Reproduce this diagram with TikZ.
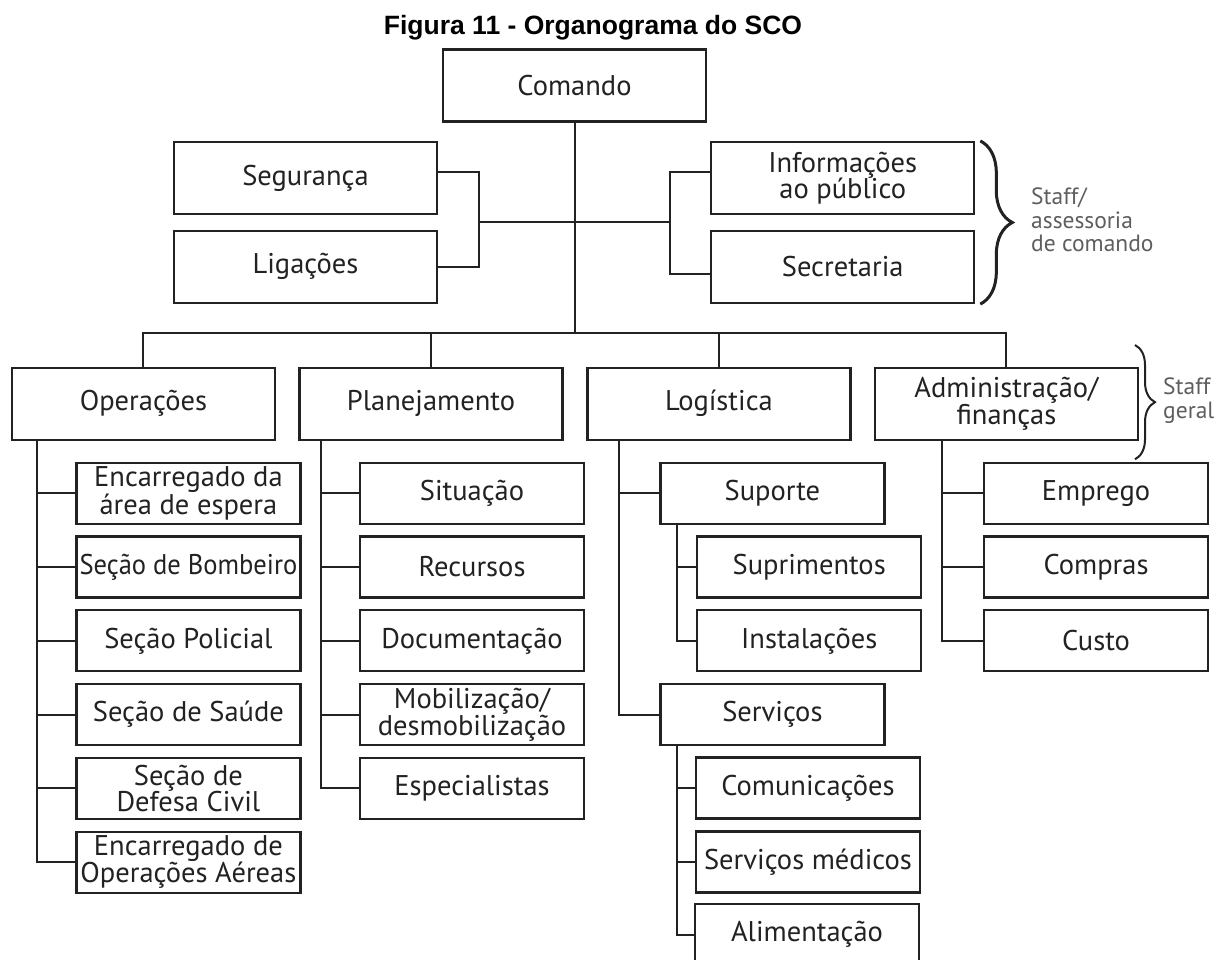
\documentclass[tikz,border=0pt]{standalone}
\usepackage{fontspec}
\setmainfont{PT Sans}
\newfontfamily\titlefont{Liberation Sans}
\usetikzlibrary{decorations.pathreplacing}
\definecolor{ink}{HTML}{222222}
\definecolor{note}{HTML}{5E5E5E}
\begin{document}
\begin{tikzpicture}[x=1pt,y=-1pt,
  unit/.style={draw=ink, line width=2.2pt, text=ink, inner sep=0pt, align=center,
               font=\fontsize{28.5}{26.5}\selectfont},
  bigbox/.style={unit, minimum width=263pt, minimum height=72pt},
  subbox/.style={unit, minimum width=224pt, minimum height=61pt},
  link/.style={draw=ink, line width=2pt},
  lbl/.style={text=note, inner sep=0pt, align=left, font=\fontsize{23.5}{23.3}\selectfont},
  brc/.style={draw=ink, decorate, decoration={brace, amplitude=#1}},
]
\useasboundingbox (0,0) rectangle (1216,960);
\clip (0,0) rectangle (1216,960);
\fill[white] (0,0) rectangle (1216,960);

% title
\node[font=\titlefont\fontsize{26.5}{30}\selectfont\bfseries, anchor=base, inner sep=0pt]
  (title) at (593,34.3) {Figura 11 - Organograma do SCO};

% command and command staff
\node[bigbox] (cmd) at (574.5,85.5) {Comando};
\node[bigbox] (seg) at (305.5,178) {Segurança};
\node[bigbox] (lig) at (305.5,266.7) {Ligações};
\node[bigbox] (inf) at (842.7,178) {Informações\\ao público};
\node[bigbox] (sec) at (842.7,267) {Secretaria};

% general staff sections
\node[bigbox] (ope) at (143.4,403.7) {Operações};
\node[bigbox] (pla) at (431,403.7) {Planejamento};
\node[bigbox] (log) at (719,403.7) {Logística};
\node[bigbox] (adm) at (1006.4,403.7) {Administração/\\finanças};

% operations units
\node[subbox] (o1) at (188.4,493.2) {Encarregado da\\área de espera};
\node[subbox] (o2) at (188.4,567.0) {\scalebox{0.93}[1]{Seção de Bombeiro}};
\node[subbox] (o3) at (188.4,640.8) {Seção Policial};
\node[subbox] (o4) at (188.4,714.6) {Seção de Saúde};
\node[subbox] (o5) at (188.4,788.4) {Seção de\\Defesa Civil};
\node[subbox] (o6) at (188.4,862.2) {Encarregado de\\Operações Aéreas};

% planning units
\node[subbox] (p1) at (472,493.2) {Situação};
\node[subbox] (p2) at (472,567.0) {Recursos};
\node[subbox] (p3) at (472,640.8) {Documentação};
\node[subbox] (p4) at (472,714.6) {Mobilização/\\desmobilização};
\node[subbox] (p5) at (472,788.4) {Especialistas};

% logistics units
\node[subbox] (su) at (772.4,493.2) {Suporte};
\node[subbox] (l1) at (809.2,567.0) {Suprimentos};
\node[subbox] (l2) at (809.2,640.8) {Instalações};
\node[subbox] (sv) at (772.4,714.6) {Serviços};
\node[subbox] (s1) at (808,788.0) {Comunicações};
\node[subbox] (s2) at (808,862.0) {Serviços médicos};
\node[subbox] (s3) at (807,934.5) {Alimentação};

% administration units
\node[subbox] (a1) at (1096,493.2) {Emprego};
\node[subbox] (a2) at (1096,567.0) {Compras};
\node[subbox] (a3) at (1096,640.8) {Custo};

% main trunk and bus
\coordinate (bus) at (0,333.3);
\coordinate (hubrow) at (0,221.7);
\draw[link] (cmd.south) -- (cmd.south |- bus);
\draw[link] (ope.north) |- (adm.north |- bus) -- (adm.north);
\draw[link] (pla.north) -- (pla.north |- bus);
\draw[link] (log.north) -- (log.north |- bus);

% command staff brackets
\draw[link] ([yshift=5.7pt]seg.east) -- ++(40.6,0) |- (lig.east);
\draw[link] ([xshift=40.6pt]seg.east |- hubrow) -- (cmd.south |- hubrow);
\draw[link] ([yshift=6.3pt]inf.west) -- ++(-39.7,0) |- ([yshift=-7pt]sec.west);
\draw[link] ([xshift=-39.7pt]inf.west |- hubrow) -- (cmd.south |- hubrow);

% section columns
\coordinate (opx) at ([xshift=25.7pt]ope.south west);
\draw[link] (opx) |- (o6.west);
\foreach \k in {1,...,5} \draw[link] (o\k.west) -- (o\k.west -| opx);

\coordinate (plx) at ([xshift=22.6pt]pla.south west);
\draw[link] (plx) |- (p5.west);
\foreach \k in {1,...,4} \draw[link] (p\k.west) -- (p\k.west -| plx);

\coordinate (lgx) at ([xshift=32.6pt]log.south west);
\draw[link] (lgx) |- (sv.west);
\draw[link] (su.west) -- (su.west -| lgx);

\coordinate (sux) at ([xshift=17.9pt]su.south west);
\draw[link] (sux) |- (l2.west);
\draw[link] (l1.west) -- (l1.west -| sux);

\coordinate (svx) at ([xshift=17.9pt]sv.south west);
\draw[link] (svx) |- (s3.west);
\foreach \k in {1,2} \draw[link] (s\k.west) -- (s\k.west -| svx);

\coordinate (adx) at ([xshift=68.4pt]adm.south west);
\draw[link] (adx) |- (a3.west);
\foreach \k in {1,2} \draw[link] (a\k.west) -- (a\k.west -| adx);

% staff braces and labels
\draw[brc=32pt, line width=3pt] ([xshift=5pt]inf.north east) -- ([xshift=5pt]sec.south east);
\draw[brc=20pt, line width=2pt] (1135,345) -- (1135,459.3);
\node[lbl, anchor=north west] (stf1) at (1031,188) {Staff/\\assessoria\\de comando};
\node[lbl, anchor=north west, font=\fontsize{23.5}{24}\selectfont] (stf2) at (1163,378) {Staff\\geral};
\end{tikzpicture}
\end{document}
